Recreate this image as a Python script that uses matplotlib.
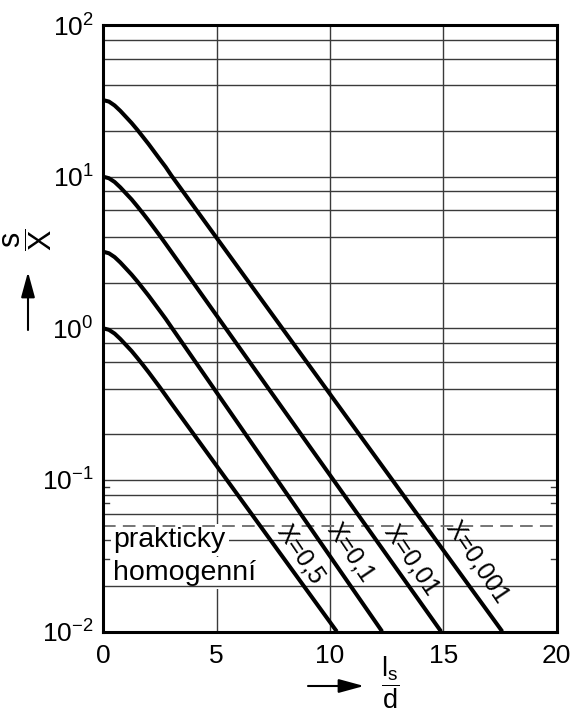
import matplotlib
matplotlib.use("Agg")
import matplotlib.pyplot as plt
from matplotlib.patches import FancyArrowPatch
from matplotlib.ticker import FixedLocator, LogLocator

plt.rcParams["font.family"] = ["Liberation Sans", "DejaVu Sans"]
plt.rcParams["mathtext.fontset"] = "custom"
plt.rcParams["mathtext.rm"] = "Liberation Sans"
plt.rcParams["mathtext.it"] = "Liberation Sans:italic"

INK, GRID, DASH = "#000000", "#3a3a3a", "#6a6a6a"

# curves: l_s/d  ->  s/X
x_start = [0, 0.25, 0.5, 0.75, 1.0, 1.25, 1.5, 1.75, 2.0, 2.25, 2.5, 2.75, 3.0]
x_05 = x_start + [10.3]
y_05 = [1.0, 0.977, 0.923, 0.851, 0.776, 0.708, 0.638, 0.573, 0.513, 0.457,
        0.407, 0.361, 0.320, 0.01]
x_01 = x_start + [12.3]
y_01 = [3.20, 3.125, 2.95, 2.72, 2.48, 2.26, 2.04, 1.83, 1.64, 1.46,
        1.30, 1.156, 1.02, 0.01]
x_001 = x_start + [14.9]
y_001 = [10.0, 9.77, 9.23, 8.51, 7.76, 7.08, 6.38, 5.73, 5.13, 4.57,
         4.07, 3.61, 3.20, 0.01]
x_0001 = x_start + [17.6]
y_0001 = [32.0, 31.3, 29.5, 27.2, 24.8, 22.6, 20.4, 18.3, 16.4, 14.6,
          13.0, 11.6, 10.2, 0.01]

labels = ["X=0,5", "X=0,1", "X=0,01", "X=0,001"]
label_x = [8.72, 10.93, 13.6, 16.5]
label_y = [0.032, 0.033, 0.0296, 0.0288]

homog_level = 0.05
side_ticks = [0.03, 0.07, 0.09]

fig = plt.figure(figsize=(5.76, 7.13), dpi=100, facecolor="white")
ax = fig.add_axes([0.1793, 0.1143, 0.7872, 0.8505])
ax.set_yscale("log")
ax.set_xlim(0, 20)
ax.set_ylim(0.01, 100)

# grid: vertical under the text boxes, horizontal over the lower one
ax.set_xticks([0, 5, 10, 15, 20])
ax.xaxis.grid(True, color=GRID, lw=1.0, zorder=1)
ax.set_axisbelow(True)
ax.yaxis.set_major_locator(LogLocator(base=10, numticks=10))
ax.yaxis.set_minor_locator(FixedLocator([]))
for dec in [0.01, 0.1, 1, 10]:
    for m in [1, 2, 4, 6, 8]:
        ax.axhline(dec * m, color=GRID, lw=1.0, zorder=2.5)
for v in side_ticks:
    ax.axhline(v, 0, 0.012, color=GRID, lw=1.0, zorder=2.5)
    ax.axhline(v, 0.988, 1, color=GRID, lw=1.0, zorder=2.5)

ax.axhline(homog_level, color=DASH, lw=1.3, ls=(0, (7, 4)), zorder=4)

for xs, ys in [(x_05, y_05), (x_01, y_01), (x_001, y_001), (x_0001, y_0001)]:
    ax.plot(xs, ys, color=INK, lw=2.9, solid_capstyle="butt", zorder=5)

for t, lx, ly in zip(labels, label_x, label_y):
    ax.text(lx, ly, t, rotation=-56, rotation_mode="anchor", ha="center",
            va="center", fontsize=18, color=INK, zorder=6)

box = dict(facecolor="white", edgecolor="none", boxstyle="square,pad=0.1")
ax.text(0.45, 0.0362, "prakticky", fontsize=20.5, ha="left", va="baseline",
        bbox=box, zorder=3)
ax.text(0.45, 0.0219, "homogenní", fontsize=20.5, ha="left", va="baseline",
        bbox=box, zorder=2)

for s in ax.spines.values():
    s.set_linewidth(2.2)
    s.set_zorder(7)
ax.tick_params(which="major", length=0, labelsize=19)
ax.tick_params(axis="x", pad=9)
ax.tick_params(axis="y", pad=7)

# axis captions with arrows
fig.text(28 / 576, 1 - 240 / 713, r"$\dfrac{\mathrm{s}}{\mathrm{X}}$", rotation=90,
         fontsize=22, ha="center", va="center")
fig.text(390 / 576, 2 / 713, r"$\dfrac{\mathrm{l_s}}{\mathrm{d}}$",
         fontsize=19.5, ha="center", va="bottom")
arrow = dict(arrowstyle="-|>,head_length=1.1,head_width=0.3", lw=1.5,
             color=INK, mutation_scale=14, shrinkA=0, shrinkB=0)
fig.add_artist(FancyArrowPatch((28 / 576, 1 - 330 / 713), (28 / 576, 1 - 272 / 713),
                               transform=fig.transFigure, **arrow))
fig.add_artist(FancyArrowPatch((308 / 576, 1 - 686 / 713), (364 / 576, 1 - 686 / 713),
                               transform=fig.transFigure, **arrow))

fig.savefig("out.png", dpi=100, facecolor="white")
